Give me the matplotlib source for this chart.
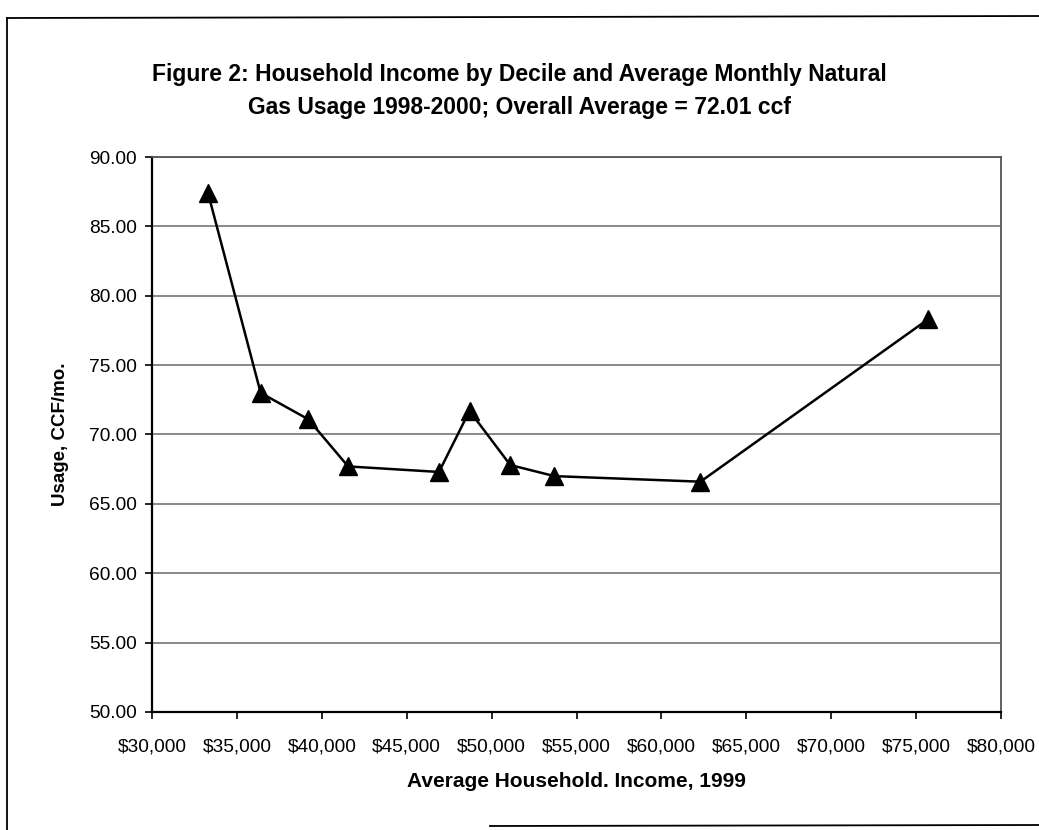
import matplotlib
matplotlib.use("Agg")
import matplotlib.pyplot as plt
from matplotlib.ticker import FuncFormatter, MultipleLocator
from matplotlib.lines import Line2D

# average household income per decile (1999) and average monthly gas usage
income = [33300, 36400, 39200, 41550, 46900, 48700, 51100, 53700, 62300, 75700]
usage = [87.4, 73.0, 71.1, 67.7, 67.3, 71.7, 67.8, 67.0, 66.6, 78.3]

title = ("Figure 2: Household Income by Decile and Average Monthly Natural\n"
         "Gas Usage 1998-2000; Overall Average = 72.01 ccf")
xlabel = "Average Household. Income, 1999"
ylabel = "Usage, CCF/mo."

plt.rcParams['font.family'] = ['Liberation Sans', 'DejaVu Sans']

W, H = 1039, 830
fig = plt.figure(figsize=(W / 100, H / 100), dpi=100)
ax = fig.add_axes([152 / W, (H - 712) / H, (1001 - 152) / W, (712 - 157) / H])

ax.plot(income, usage, color="black", lw=1.8, marker="^", ms=12.5,
        mfc="black", mec="black", zorder=3)

ax.set_xlim(30000, 80000)
ax.set_ylim(50, 90)
ax.xaxis.set_major_locator(MultipleLocator(5000))
ax.yaxis.set_major_locator(MultipleLocator(5))
ax.xaxis.set_major_formatter(FuncFormatter(lambda v, p: "${:,.0f}".format(v)))
ax.yaxis.set_major_formatter(FuncFormatter(lambda v, p: "{:.2f}".format(v)))
ax.tick_params(axis="both", labelsize=13.8, direction="out", length=5, width=1.2)
ax.tick_params(axis="x", pad=14)
ax.tick_params(axis="y", pad=6)

ax.grid(axis="y", color="#808080", lw=1.3)
ax.set_axisbelow(True)
for side in ["left", "bottom"]:
    ax.spines[side].set_linewidth(1.6)
    ax.spines[side].set_color("black")
for side in ["top", "right"]:
    ax.spines[side].set_linewidth(1.3)
    ax.spines[side].set_color("#555555")

ax.set_xlabel(xlabel, fontsize=15, fontweight="bold", labelpad=12)
ax.set_ylabel(ylabel, fontsize=13.5, fontweight="bold", labelpad=14)

fig.text(519 / W, 1 - 91 / H, title, ha="center", va="center",
         fontsize=16.5, fontweight="bold", linespacing=1.6)

# outer chart frame
fig.add_artist(Line2D([7 / W, 7 / W], [1 - 18 / H, 0], color="black", lw=1.3))
fig.add_artist(Line2D([7 / W, 1 - 0.5 / W], [1 - 18 / H, 1 - 16 / H], color="black", lw=1.3))
fig.add_artist(Line2D([490 / W, 1 - 0.5 / W], [1 - 826 / H, 1 - 825 / H], color="black", lw=1.3))

fig.savefig("out.png", dpi=100, facecolor="white")
